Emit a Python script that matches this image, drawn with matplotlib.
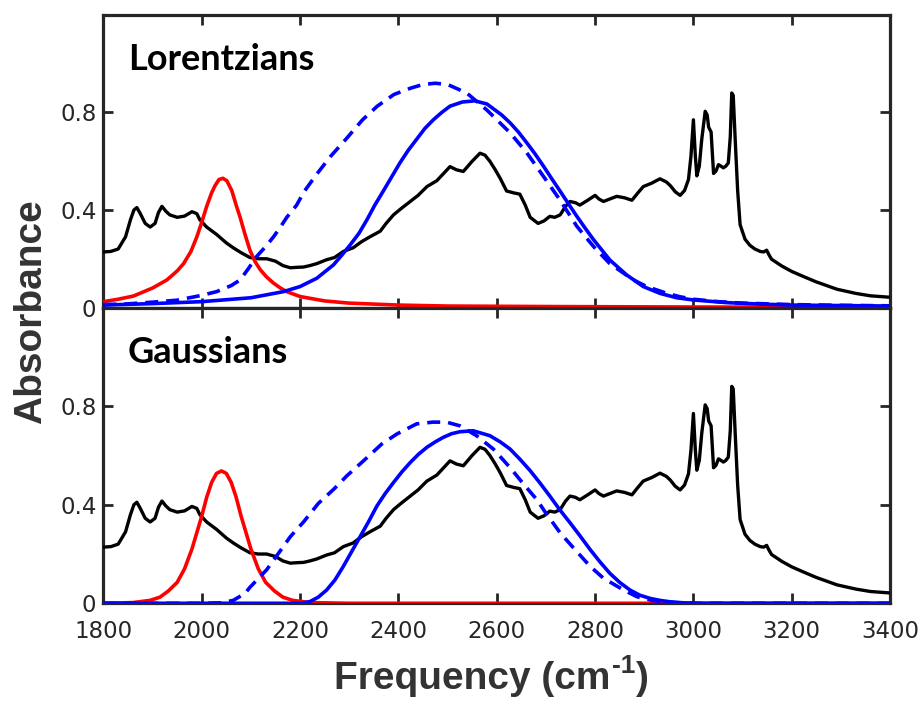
import matplotlib
matplotlib.use("Agg")
import matplotlib.pyplot as plt

# measured spectrum (same trace in both panels)
freq_exp = [1800, 1815, 1830, 1845, 1855, 1862, 1868, 1875, 1885, 1895, 1905, 1912, 1919, 1927,
            1935, 1950, 1965, 1980, 1990, 1996, 2010, 2030, 2050, 2064, 2080, 2098, 2115, 2132,
            2150, 2165, 2180, 2195, 2207, 2220, 2234, 2254, 2270, 2288, 2308, 2325, 2342, 2363,
            2375, 2390, 2405, 2424, 2440, 2458, 2478, 2492, 2505, 2518, 2532, 2550, 2566, 2576,
            2586, 2597, 2607, 2620, 2635, 2647, 2658, 2668, 2684, 2696, 2708, 2718, 2729, 2740,
            2749, 2760, 2769, 2785, 2800, 2808, 2817, 2830, 2844, 2860, 2875, 2887, 2898, 2915,
            2932, 2945, 2953, 2963, 2973, 2982, 2990, 2995, 3000, 3004, 3007, 3012, 3017, 3024,
            3028, 3031, 3036, 3041, 3046, 3051, 3056, 3061, 3066, 3071, 3075, 3078, 3081, 3085,
            3090, 3095, 3105, 3115, 3125, 3136, 3143, 3149, 3154, 3159, 3180, 3200, 3224, 3250,
            3292, 3330, 3360, 3400]
abs_exp = [0.228, 0.230, 0.240, 0.290, 0.360, 0.400, 0.410, 0.385, 0.345, 0.330, 0.345, 0.390,
           0.415, 0.395, 0.380, 0.370, 0.375, 0.393, 0.385, 0.360, 0.330, 0.300, 0.265, 0.245,
           0.225, 0.205, 0.200, 0.200, 0.190, 0.172, 0.163, 0.165, 0.166, 0.172, 0.180, 0.196,
           0.205, 0.230, 0.245, 0.270, 0.290, 0.313, 0.345, 0.380, 0.405, 0.435, 0.460, 0.496,
           0.520, 0.550, 0.578, 0.565, 0.558, 0.600, 0.633, 0.625, 0.600, 0.565, 0.530, 0.478,
           0.470, 0.465, 0.420, 0.370, 0.345, 0.355, 0.374, 0.370, 0.380, 0.415, 0.435, 0.430,
           0.420, 0.440, 0.460, 0.445, 0.435, 0.445, 0.456, 0.450, 0.440, 0.470, 0.496, 0.510,
           0.528, 0.515, 0.500, 0.475, 0.460, 0.480, 0.525, 0.620, 0.770, 0.620, 0.540, 0.580,
           0.690, 0.805, 0.790, 0.740, 0.720, 0.550, 0.560, 0.586, 0.580, 0.573, 0.580, 0.593,
           0.700, 0.880, 0.870, 0.690, 0.480, 0.340, 0.280, 0.255, 0.240, 0.230, 0.228, 0.235,
           0.215, 0.198, 0.170, 0.148, 0.127, 0.105, 0.075, 0.058, 0.048, 0.042]

# Lorentzian fits (top panel)
lor_red_f = [1800, 1830, 1861, 1900, 1929, 1950, 1963, 1978, 1990, 2000, 2010, 2020, 2027, 2035,
             2043, 2051, 2061, 2070, 2078, 2088, 2098, 2108, 2119, 2132, 2146, 2160, 2173, 2200,
             2250, 2300, 2400, 2500, 2700, 3000, 3400]
lor_red_a = [0.024, 0.034, 0.047, 0.080, 0.113, 0.150, 0.180, 0.230, 0.290, 0.350, 0.415, 0.470,
             0.500, 0.525, 0.530, 0.520, 0.480, 0.420, 0.370, 0.300, 0.235, 0.190, 0.155, 0.125,
             0.100, 0.080, 0.065, 0.045, 0.027, 0.018, 0.010, 0.006, 0.004, 0.002, 0.001]

lor_dash_f = [1800, 1850, 1900, 1950, 2000, 2030, 2060, 2078, 2095, 2112, 2130, 2146, 2160, 2173,
              2193, 2208, 2235, 2262, 2293, 2327, 2357, 2391, 2425, 2450, 2475, 2500, 2539, 2580,
              2627, 2661, 2695, 2729, 2763, 2797, 2830, 2878, 2905, 2946, 2973, 3000, 3050, 3100,
              3200, 3300, 3400]
lor_dash_a = [0.012, 0.015, 0.022, 0.030, 0.050, 0.065, 0.090, 0.113, 0.160, 0.210, 0.250, 0.290,
              0.330, 0.370, 0.420, 0.475, 0.550, 0.620, 0.690, 0.770, 0.826, 0.874, 0.900, 0.915,
              0.920, 0.915, 0.880, 0.810, 0.717, 0.635, 0.538, 0.440, 0.333, 0.250, 0.180, 0.113,
              0.086, 0.058, 0.044, 0.034, 0.024, 0.018, 0.012, 0.009, 0.007]

lor_blue_f = [1800, 1900, 2000, 2100, 2166, 2200, 2234, 2268, 2285, 2302, 2320, 2336, 2352, 2369,
              2386, 2403, 2420, 2437, 2454, 2471, 2488, 2505, 2530, 2555, 2580, 2610, 2627, 2644,
              2661, 2678, 2695, 2712, 2729, 2746, 2763, 2780, 2797, 2830, 2864, 2898, 2932, 2966,
              3000, 3068, 3136, 3203, 3300, 3400]
lor_blue_a = [0.010, 0.016, 0.024, 0.040, 0.065, 0.086, 0.120, 0.175, 0.215, 0.257, 0.305, 0.360,
              0.420, 0.477, 0.535, 0.593, 0.645, 0.690, 0.735, 0.770, 0.800, 0.826, 0.843, 0.848,
              0.835, 0.790, 0.758, 0.720, 0.676, 0.630, 0.580, 0.528, 0.477, 0.425, 0.374, 0.325,
              0.278, 0.195, 0.134, 0.086, 0.058, 0.040, 0.031, 0.020, 0.014, 0.010, 0.008, 0.006]

# Gaussian fits (bottom panel)
gau_red_f = [1800, 1860, 1895, 1915, 1932, 1950, 1965, 1980, 2000, 2010, 2020, 2030, 2040, 2050,
             2060, 2070, 2080, 2100, 2115, 2130, 2148, 2165, 2185, 2220, 2300, 3400]
gau_red_a = [0.0, 0.003, 0.012, 0.025, 0.050, 0.085, 0.140, 0.220, 0.354, 0.430, 0.490, 0.527,
             0.537, 0.527, 0.490, 0.430, 0.354, 0.220, 0.140, 0.085, 0.050, 0.025, 0.012, 0.003,
             0.0, 0.0]

gau_dash_f = [1800, 2000, 2040, 2064, 2088, 2098, 2132, 2155, 2180, 2207, 2237, 2268, 2295, 2329,
              2366, 2397, 2437, 2470, 2498, 2525, 2559, 2593, 2627, 2654, 2681, 2702, 2729, 2756,
              2790, 2817, 2858, 2885, 2920, 2960, 3000, 3400]
gau_dash_a = [0.0, 0.0, 0.002, 0.012, 0.040, 0.065, 0.136, 0.200, 0.270, 0.330, 0.405, 0.462,
              0.517, 0.578, 0.646, 0.687, 0.728, 0.735, 0.735, 0.720, 0.680, 0.626, 0.551, 0.485,
              0.422, 0.360, 0.286, 0.225, 0.150, 0.102, 0.054, 0.027, 0.010, 0.003, 0.0, 0.0]

gau_blue_f = [1800, 2200, 2220, 2237, 2254, 2271, 2288, 2305, 2322, 2339, 2356, 2373, 2390, 2407,
              2424, 2441, 2458, 2475, 2491, 2508, 2525, 2552, 2586, 2607, 2627, 2647, 2668, 2688,
              2708, 2728, 2749, 2770, 2790, 2810, 2830, 2850, 2871, 2891, 2912, 2932, 2953, 2980,
              3010, 3400]
gau_blue_a = [0.0, 0.0, 0.007, 0.025, 0.054, 0.095, 0.150, 0.210, 0.270, 0.330, 0.394, 0.445,
              0.490, 0.533, 0.571, 0.605, 0.633, 0.655, 0.673, 0.688, 0.696, 0.700, 0.680, 0.655,
              0.626, 0.585, 0.538, 0.488, 0.435, 0.380, 0.327, 0.272, 0.218, 0.168, 0.122, 0.085,
              0.054, 0.033, 0.020, 0.012, 0.006, 0.002, 0.0, 0.0]

x_ticks = [1800, 2000, 2200, 2400, 2600, 2800, 3000, 3200, 3400]
y_ticks = [0, 0.4, 0.8]
y_labels = ["0", "0.4", "0.8"]
panel_names = ["Lorentzians", "Gaussians"]

frame = '#262626'
fig = plt.figure(figsize=(9.21, 7.04), dpi=100)
ax_top = fig.add_axes([0.1123, 0.5632, 0.8541, 0.4155])
ax_bot = fig.add_axes([0.1123, 0.1430, 0.8541, 0.4202])

fits = [(lor_red_f, lor_red_a, lor_dash_f, lor_dash_a, lor_blue_f, lor_blue_a),
        (gau_red_f, gau_red_a, gau_dash_f, gau_dash_a, gau_blue_f, gau_blue_a)]

for ax, name, (rf, ra, df, da, bf, ba) in zip([ax_top, ax_bot], panel_names, fits):
    ax.plot(freq_exp, abs_exp, color='black', lw=2.4, zorder=3)
    ax.plot(rf, ra, color='#ff0000', lw=2.6, zorder=4)
    ax.plot(df, da, color='#0000ff', lw=2.6, zorder=5, dashes=(3.6, 2.2))
    ax.plot(bf, ba, color='#0000ff', lw=2.6, zorder=6)
    ax.set_xlim(1800, 3400)
    ax.set_ylim(0, 1.2)
    ax.set_xticks(x_ticks)
    ax.set_yticks(y_ticks)
    ax.set_yticklabels(y_labels)
    ax.tick_params(direction='in', length=7, width=2, color=frame, top=True, right=True,
                   labelsize=16.5, labelcolor=frame)
    ax.tick_params(axis='y', pad=5)
    ax.tick_params(axis='x', pad=12)
    for sp in ax.spines.values():
        sp.set_linewidth(2.3)
        sp.set_color(frame)
    ax.text(1850, 0.973, name, family='Lato', fontweight='bold', fontsize=26,
            color='black', va='baseline', ha='left')

ax_top.tick_params(labelbottom=False)

fig.text(0.034, 0.558, 'Absorbance', rotation=90, ha='center', va='center',
         family='Liberation Sans', fontweight='bold', fontsize=28, color='#333333')

# x label built from pieces so the superscript keeps a plain hyphen
lab_kw = dict(family='Liberation Sans', fontweight='bold', color='#333333')
t1 = fig.text(0.363, 0.036, 'Frequency (cm', ha='left', va='center', fontsize=28, **lab_kw)
fig.canvas.draw()
bb = t1.get_window_extent()
x1 = bb.x1 / fig.bbox.width
t2 = fig.text(x1 + 0.001, 0.054, '-1', ha='left', va='center', fontsize=19, **lab_kw)
fig.canvas.draw()
bb2 = t2.get_window_extent()
x2 = bb2.x1 / fig.bbox.width
fig.text(x2 + 0.001, 0.036, ')', ha='left', va='center', fontsize=28, **lab_kw)

fig.savefig('out.png', dpi=100)
